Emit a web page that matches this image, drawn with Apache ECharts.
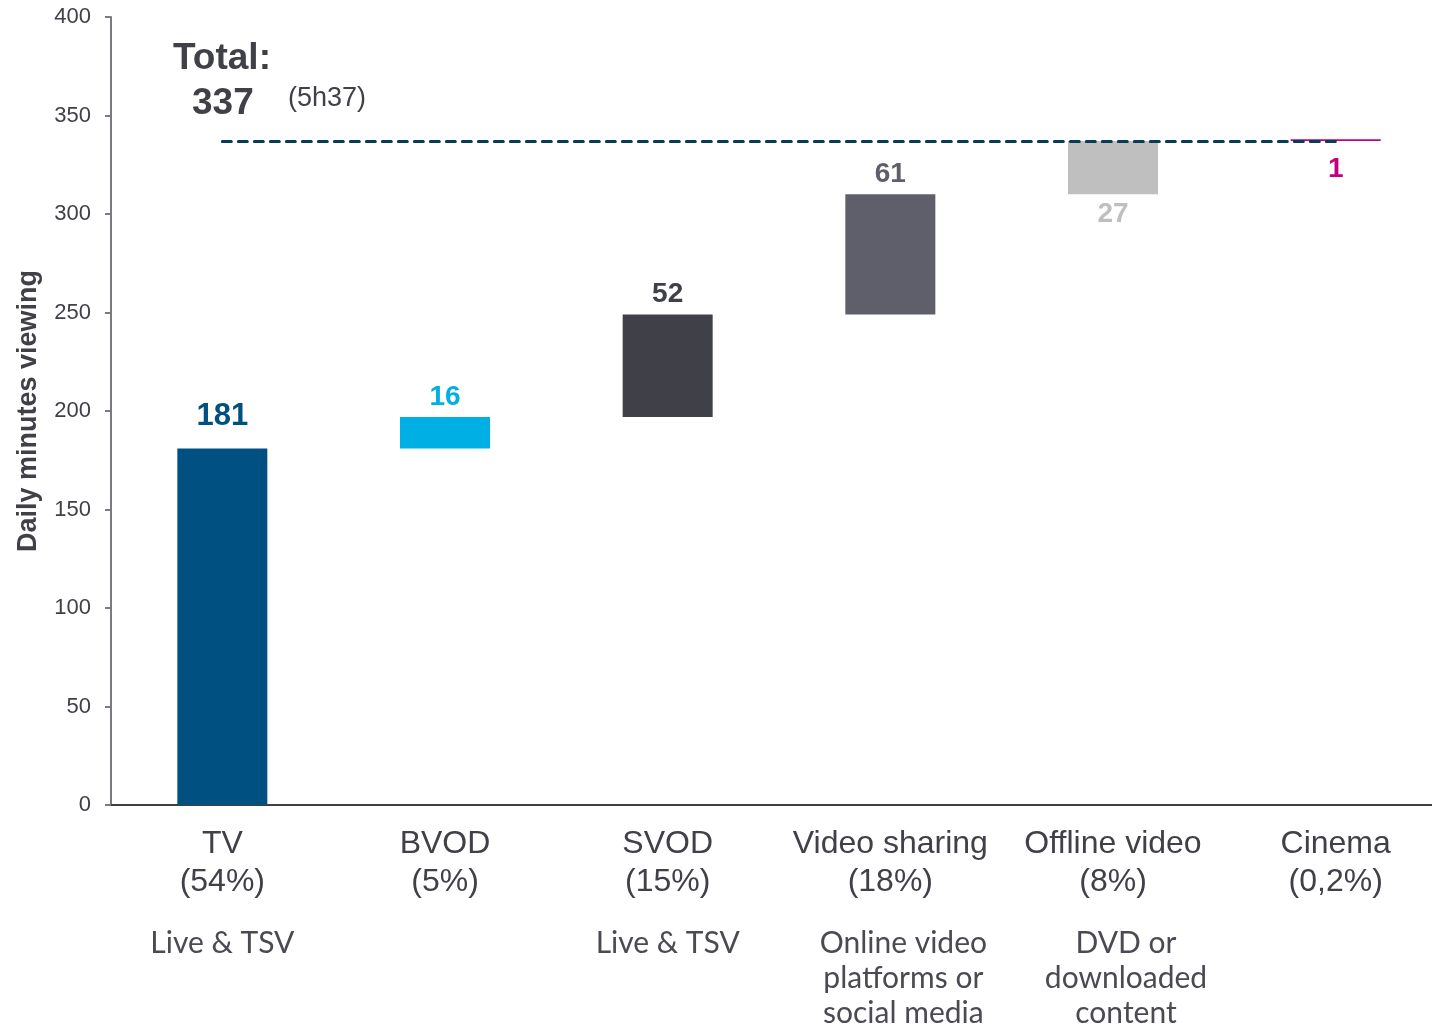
<!DOCTYPE html>
<html>
<head>
<meta charset="utf-8">
<script src="https://cdn.jsdelivr.net/npm/echarts@6/dist/echarts.min.js"></script>
<style>
    html, body { margin: 0; padding: 0; background: #fff; }
    #main { width: 1432px; height: 1027px; }
</style>
</head>
<body>
<div id="main"></div>
<script>
    // categories, share and description
    var categories = ['TV', 'BVOD', 'SVOD', 'Video sharing', 'Offline video', 'Cinema'];
    var shares = ['(54%)', '(5%)', '(15%)', '(18%)', '(8%)', '(0,2%)'];
    var notes = ['Live & TSV', '', 'Live & TSV', 'Online video\nplatforms or\nsocial media', 'DVD or\ndownloaded\ncontent', ''];
    // daily minutes per source
    var minutes = [181, 16, 52, 61, 27, 1];
    var total = 337;
    var barColors = ['#005182', '#00b0e4', '#404049', '#5f5f6b', '#bfbfbf', '#c4007c'];

    // invisible base so every bar starts where the previous one ended
    var base = [];
    var run = 0;
    minutes.forEach(function (m) {
        base.push(run);
        run += m;
    });

    var valueData = minutes.map(function (m, i) {
        var item = { value: m, itemStyle: { color: barColors[i] }, label: { color: barColors[i] } };
        if (i === 0) { item.label.offset = [0, -10]; item.label.fontSize = 31; }
        if (i === 4) item.label.position = 'bottom';
        if (i === 5) { item.label.position = 'bottom'; item.label.distance = 14; }
        return item;
    });

    var option = {
        backgroundColor: '#fff',
        animation: false,
        grid: { left: 111, right: -15, top: 17, bottom: 222, containLabel: false, outerBoundsMode: 'none' },
        xAxis: {
            type: 'category',
            data: categories,
            axisLine: { lineStyle: { color: '#404040', width: 2 } },
            axisTick: { length: 10, lineStyle: { color: '#404040', width: 2 } },
            axisLabel: {
                interval: 0,
                margin: 20,
                formatter: function (val, idx) {
                    var s = '{a|' + val + '}\n{a|' + shares[idx] + '}';
                    // the longer notes sit a little right of the category centre
                    var tag = (idx === 3 || idx === 4) ? 'c' : 'b';
                    if (notes[idx]) {
                        s += '\n{gap|}';
                        notes[idx].split('\n').forEach(function (line) {
                            s += '\n{' + tag + '|' + line + '}';
                        });
                    }
                    return s;
                },
                rich: {
                    a: { fontFamily: 'Liberation Sans', fontSize: 32, lineHeight: 38, color: '#404048' },
                    gap: { lineHeight: 25, fontSize: 10 },
                    b: { fontFamily: 'Lato', fontSize: 30, lineHeight: 35, color: '#4a4a52' },
                    c: { fontFamily: 'Lato', fontSize: 30, lineHeight: 35, color: '#4a4a52', padding: [0, 0, 0, 26] }
                }
            }
        },
        yAxis: {
            type: 'value',
            min: 0,
            max: 400,
            interval: 50,
            name: 'Daily minutes viewing',
            nameLocation: 'middle',
            nameGap: 69,
            nameTextStyle: { fontFamily: 'Liberation Sans', fontSize: 27, fontWeight: 'bold', color: '#404048' },
            splitLine: { show: false },
            axisLine: { show: true, lineStyle: { color: '#7a7a80', width: 2 } },
            axisTick: { show: true, length: 6, lineStyle: { color: '#7a7a80', width: 2 } },
            axisLabel: { fontFamily: 'Liberation Sans', fontSize: 22, color: '#404048', margin: 20 }
        },
        series: [
            {
                type: 'bar',
                stack: 'w',
                data: base,
                barWidth: 90,
                itemStyle: { color: 'transparent' },
                emphasis: { disabled: true },
                silent: true
            },
            {
                type: 'bar',
                stack: 'w',
                data: valueData,
                barWidth: 90,
                label: {
                    show: true,
                    position: 'top',
                    distance: 6,
                    fontFamily: 'Liberation Sans',
                    fontSize: 28,
                    fontWeight: 'bold'
                },
                markLine: {
                    symbol: 'none',
                    silent: true,
                    label: { show: false },
                    lineStyle: { color: '#0a3a55', type: [9, 7], cap: 'round', width: 3 },
                    data: [[{ coord: [categories[0], total] }, { coord: [categories[5], total] }]]
                }
            }
        ],
        graphic: [
            { type: 'text', left: 173, top: 40, style: { text: 'Total:', fontFamily: 'Liberation Sans', fontSize: 37, fontWeight: 'bold', fill: '#404048' } },
            { type: 'text', left: 192, top: 85, style: { text: String(total), fontFamily: 'Liberation Sans', fontSize: 37, fontWeight: 'bold', fill: '#404048' } },
            { type: 'text', left: 288, top: 85, style: { text: '(5h37)', fontFamily: 'Liberation Sans', fontSize: 27, fill: '#404048' } }
        ]
    };

    var chart = echarts.init(document.getElementById('main'));
    chart.setOption(option);
</script>
</body>
</html>
